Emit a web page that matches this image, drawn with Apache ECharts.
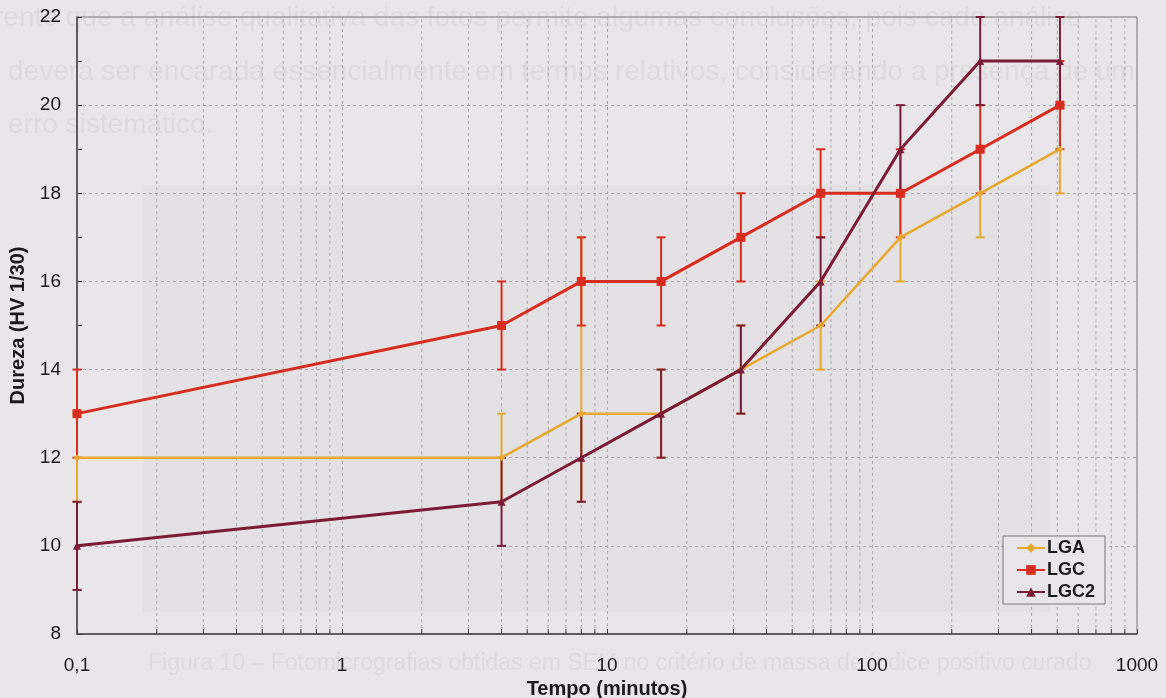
<!DOCTYPE html>
<html>
<head>
<meta charset="utf-8">
<title>Dureza x Tempo</title>
<script src="https://cdn.jsdelivr.net/npm/echarts@6/dist/echarts.min.js"></script>
<style>
  html, body { margin: 0; padding: 0; background: #e8e6e9; }
  #chart { width: 1166px; height: 698px; }
</style>
</head>
<body>
<div id="chart"></div>
<script>
// Aging time (minutes) and Vickers hardness for the three alloys
const tempo = [0.1, 4, 8, 16, 32, 64, 128, 256, 512];

const lgaValues = [12, 12, 13, 13, 14, 15, 17, 18, 19];
const lgaLow    = [11, 11, 11, 12, 13, 14, 16, 17, 18];
const lgaHigh   = [13, 13, 17, 14, 15, 16, 18, 19, 20];

const lgcValues = [13, 15, 16, 16, 17, 18, 18, 19, 20];
const lgcLow    = [12, 14, 15, 15, 16, 17, 17, 18, 19];
const lgcHigh   = [14, 16, 17, 17, 18, 19, 19, 20, 21];

const lgc2Values = [10, 11, 12, 13, 14, 16, 19, 21, 21];
const lgc2Low    = [9, 10, 11, 12, 13, 15, 18, 20, 20];
const lgc2High   = [11, 12, 13, 14, 15, 17, 20, 22, 22];

const seriesNames = ['LGA', 'LGC', 'LGC2'];
const xTickLabels = { '0.1': '0,1', '1': '1', '10': '10', '100': '100', '1000': '1000' };

const colors = { LGA: '#e8a82e', LGC: '#d82c1e', LGC2: '#7c1b36' };

// minor log-decade positions (2..9 of each decade)
const minorTicks = [];
[0.1, 1, 10, 100].forEach(function (d) {
  for (let k = 2; k <= 9; k++) minorTicks.push(+(d * k).toPrecision(3));
});

function pairs(xs, ys) { return xs.map(function (x, i) { return [x, ys[i]]; }); }
function bars(xs, lo, hi) { return xs.map(function (x, i) { return [x, lo[i], hi[i]]; }); }

function errorBarSeries(id, data, color, z) {
  return {
    type: 'custom',
    id: id,
    name: id,
    data: data,
    z: z,
    clip: false,
    silent: true,
    encode: { x: 0, y: [1, 2] },
    renderItem: function (params, api) {
      const x = api.value(0);
      const lo = api.coord([x, api.value(1)]);
      const hi = api.coord([x, api.value(2)]);
      const half = 4.5;
      const style = { stroke: color, lineWidth: 2 };
      return {
        type: 'group',
        children: [
          { type: 'line', shape: { x1: lo[0], y1: lo[1], x2: hi[0], y2: hi[1] }, style: style },
          { type: 'line', shape: { x1: lo[0] - half, y1: lo[1], x2: lo[0] + half, y2: lo[1] }, style: style },
          { type: 'line', shape: { x1: hi[0] - half, y1: hi[1], x2: hi[0] + half, y2: hi[1] }, style: style }
        ]
      };
    }
  };
}

const chart = echarts.init(document.getElementById('chart'), null, { renderer: 'canvas' });

const ghostFill = 'rgba(60,55,60,0.065)';
const ghostFont = '"Liberation Sans", Arial, sans-serif';

const option = {
  backgroundColor: '#e8e6e9',
  animation: false,
  textStyle: { fontFamily: '"Liberation Sans", Arial, sans-serif' },
  graphic: [
    { type: 'rect', z: -10, silent: true, shape: { x: 143, y: 185, width: 907, height: 427 }, style: { fill: 'rgba(0,0,0,0.02)' } },
    { type: 'text', z: -9, silent: true, left: -6, top: 4, style: { text: 'rente que a análise qualitativa das fotos permite algumas conclusões, pois cada análise', fill: ghostFill, font: '28px ' + ghostFont } },
    { type: 'text', z: -9, silent: true, left: 8, top: 58, style: { text: 'deverá ser encarada essencialmente em termos relativos, considerando a presença de um', fill: ghostFill, font: '28px ' + ghostFont } },
    { type: 'text', z: -9, silent: true, left: 8, top: 111, style: { text: 'erro sistemático.', fill: ghostFill, font: '28px ' + ghostFont } },
    { type: 'text', z: -9, silent: true, left: 148, top: 652, style: { text: 'Figura 10 – Fotomicrografias obtidas em SEM no critério de massa de índice positivo curado', fill: ghostFill, font: '23px ' + ghostFont } }
  ],
  grid: {
    left: 77, right: 29, top: 17, bottom: 64,
    outerBoundsMode: 'none',
    containLabel: false,
    show: true, borderColor: '#777', borderWidth: 1, backgroundColor: 'transparent'
  },
  legend: {
    left: 1003, top: 536,
    orient: 'vertical',
    backgroundColor: '#e8e6e9',
    borderColor: '#777', borderWidth: 1, borderRadius: 0,
    padding: [3, 10, 3, 13],
    itemGap: 4,
    itemWidth: 28, itemHeight: 12,
    textStyle: { fontSize: 18, fontWeight: 'bold', color: '#1a1a1a', padding: [0, 0, 0, -3] },
    data: seriesNames
  },
  xAxis: {
    type: 'log', logBase: 10, min: 0.1, max: 1000,
    name: 'Tempo (minutos)', nameLocation: 'middle', nameGap: 44,
    nameTextStyle: { fontSize: 20, fontWeight: 'bold', color: '#1a1a1a' },
    axisLine: { lineStyle: { color: '#444', width: 1.5 } },
    axisTick: { show: true, inside: true, length: 5, lineStyle: { color: '#444' } },
    axisLabel: {
      fontSize: 19, color: '#1a1a1a', margin: 22,
      formatter: function (v) { return xTickLabels[String(+v.toPrecision(3))] || ''; }
    },
    splitLine: { show: true, lineStyle: { color: '#a9a7aa', type: [3, 3], width: 1 } }
  },
  yAxis: {
    type: 'value', min: 8, max: 22, interval: 2,
    name: 'Dureza (HV 1/30)', nameLocation: 'middle', nameGap: 42,
    nameTextStyle: { fontSize: 20, fontWeight: 'bold', color: '#1a1a1a' },
    axisLine: { show: true, lineStyle: { color: '#444', width: 1.5 } },
    axisTick: { show: true, inside: true, length: 5, lineStyle: { color: '#444' } },
    minorTick: { show: true, splitNumber: 2, length: 5, lineStyle: { color: '#444' } },
    axisLabel: { fontSize: 19, color: '#1a1a1a', margin: 16 },
    splitLine: { show: true, lineStyle: { color: '#a9a7aa', type: [3, 3], width: 1 } }
  },
  series: [
    {
      // minor decade grid lines with their inward ticks on the time axis
      type: 'custom',
      id: 'minorGrid',
      data: minorTicks,
      z: 0,
      silent: true,
      encode: { x: 0 },
      renderItem: function (params, api) {
        const x = api.value(0);
        const bottom = api.coord([x, 8]);
        const top = api.coord([x, 22]);
        return {
          type: 'group',
          children: [
            { type: 'line', shape: { x1: bottom[0], y1: bottom[1], x2: top[0], y2: top[1] },
              style: { stroke: '#a9a7aa', lineWidth: 1, lineDash: [3, 3] } },
            { type: 'line', shape: { x1: bottom[0], y1: bottom[1], x2: bottom[0], y2: bottom[1] - 5 },
              style: { stroke: '#444', lineWidth: 1 } }
          ]
        };
      }
    },
    errorBarSeries('LGA-erro', bars(tempo, lgaLow, lgaHigh), colors.LGA, 2),
    errorBarSeries('LGC-erro', bars(tempo, lgcLow, lgcHigh), colors.LGC, 3),
    errorBarSeries('LGC2-erro', bars(tempo, lgc2Low, lgc2High), colors.LGC2, 4),
    {
      name: seriesNames[0], type: 'line', data: pairs(tempo, lgaValues), z: 5,
      symbol: 'diamond', symbolSize: 7,
      itemStyle: { color: colors.LGA }, lineStyle: { color: colors.LGA, width: 2.5 }
    },
    {
      name: seriesNames[1], type: 'line', data: pairs(tempo, lgcValues), z: 6,
      symbol: 'rect', symbolSize: 9,
      itemStyle: { color: colors.LGC }, lineStyle: { color: colors.LGC, width: 3 }
    },
    {
      name: seriesNames[2], type: 'line', data: pairs(tempo, lgc2Values), z: 7,
      symbol: 'triangle', symbolSize: 8,
      itemStyle: { color: colors.LGC2 }, lineStyle: { color: colors.LGC2, width: 3 }
    }
  ]
};

chart.setOption(option);
</script>
</body>
</html>
